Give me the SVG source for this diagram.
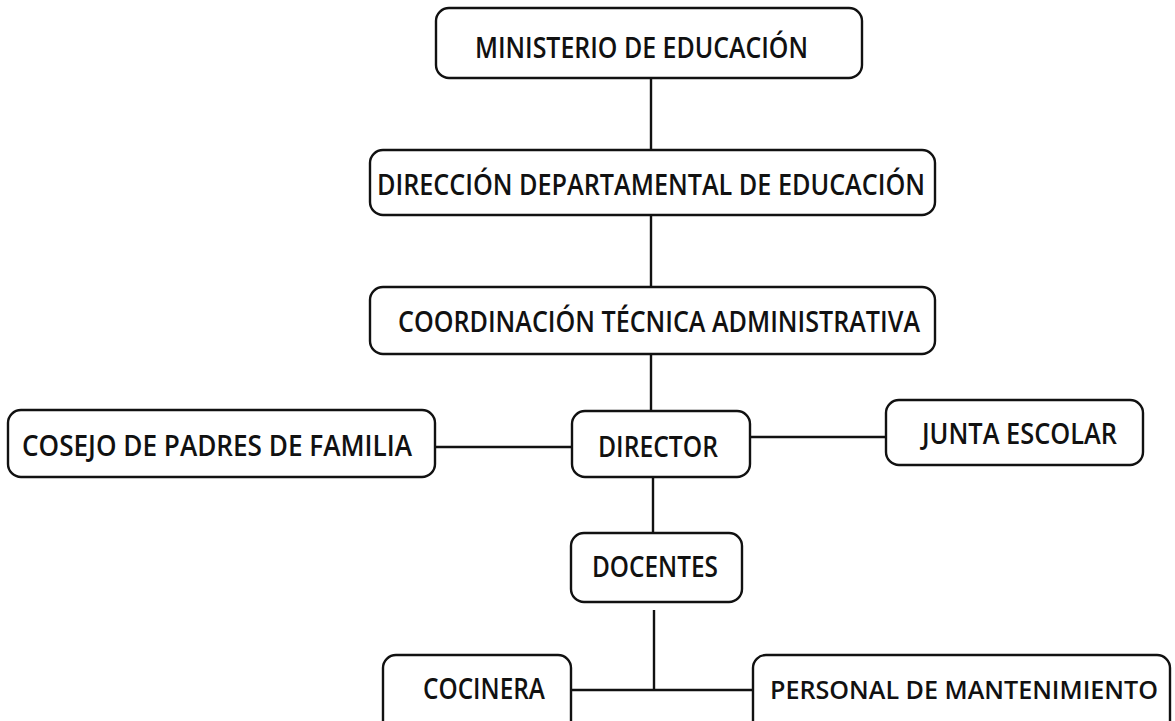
<svg xmlns="http://www.w3.org/2000/svg" width="1175" height="721" viewBox="0 0 1175 721">
<style>
.box{fill:#fff;stroke:#111;stroke-width:2.4}
.t{font-family:"Open Sans","Noto Sans","Liberation Sans",sans-serif;font-size:29px;fill:#111;font-weight:600}
.ln{stroke:#111;stroke-width:2.4;fill:none}
</style>
<rect width="1175" height="721" fill="#fff"/>
<g id="connectors">
<line class="ln" x1="651" y1="78" x2="651" y2="150"/>
<line class="ln" x1="651" y1="215" x2="651" y2="287"/>
<line class="ln" x1="651" y1="354" x2="651" y2="411"/>
<line class="ln" x1="435" y1="447" x2="572" y2="447"/>
<line class="ln" x1="750" y1="437" x2="886" y2="437"/>
<line class="ln" x1="653" y1="477" x2="653" y2="533"/>
<line class="ln" x1="654" y1="610" x2="654" y2="690"/>
<line class="ln" x1="571" y1="690" x2="753" y2="690"/>
</g>
<g id="ministerio">
<rect class="box" x="436" y="8" width="426" height="70" rx="13"/>
<text class="t" x="475" y="58" textLength="333" lengthAdjust="spacingAndGlyphs">MINISTERIO DE EDUCACIÓN</text>
</g>
<g id="direccion">
<rect class="box" x="370" y="150" width="565" height="65" rx="13"/>
<text class="t" x="377" y="195" textLength="548" lengthAdjust="spacingAndGlyphs">DIRECCIÓN DEPARTAMENTAL DE EDUCACIÓN</text>
</g>
<g id="coordinacion">
<rect class="box" x="370" y="287" width="565" height="67" rx="13"/>
<text class="t" x="398" y="332" textLength="522" lengthAdjust="spacingAndGlyphs">COORDINACIÓN TÉCNICA ADMINISTRATIVA</text>
</g>
<g id="cosejo">
<rect class="box" x="8" y="410" width="427" height="67" rx="13"/>
<text class="t" x="22" y="456" textLength="390" lengthAdjust="spacingAndGlyphs">COSEJO DE PADRES DE FAMILIA</text>
</g>
<g id="director">
<rect class="box" x="572" y="411" width="178" height="66" rx="13"/>
<text class="t" x="598" y="457" textLength="120" lengthAdjust="spacingAndGlyphs">DIRECTOR</text>
</g>
<g id="junta">
<rect class="box" x="886" y="400" width="257" height="65" rx="13"/>
<text class="t" x="922" y="444" textLength="195" lengthAdjust="spacingAndGlyphs">JUNTA ESCOLAR</text>
</g>
<g id="docentes">
<rect class="box" x="571" y="533" width="171" height="69" rx="13"/>
<text class="t" x="592" y="577" textLength="126" lengthAdjust="spacingAndGlyphs">DOCENTES</text>
</g>
<g id="cocinera">
<path class="box" d="M383 721 V668 A13 13 0 0 1 396 655 H558 A13 13 0 0 1 571 668 V721"/>
<text class="t" x="423" y="699" textLength="122" lengthAdjust="spacingAndGlyphs">COCINERA</text>
</g>
<g id="personal">
<path class="box" d="M753 721 V668 A13 13 0 0 1 766 655 H1157 A13 13 0 0 1 1170 668 V721"/>
<text class="t" x="770" y="699" style="font-size:25.5px" textLength="388" lengthAdjust="spacingAndGlyphs">PERSONAL DE MANTENIMIENTO</text>
</g>
</svg>
